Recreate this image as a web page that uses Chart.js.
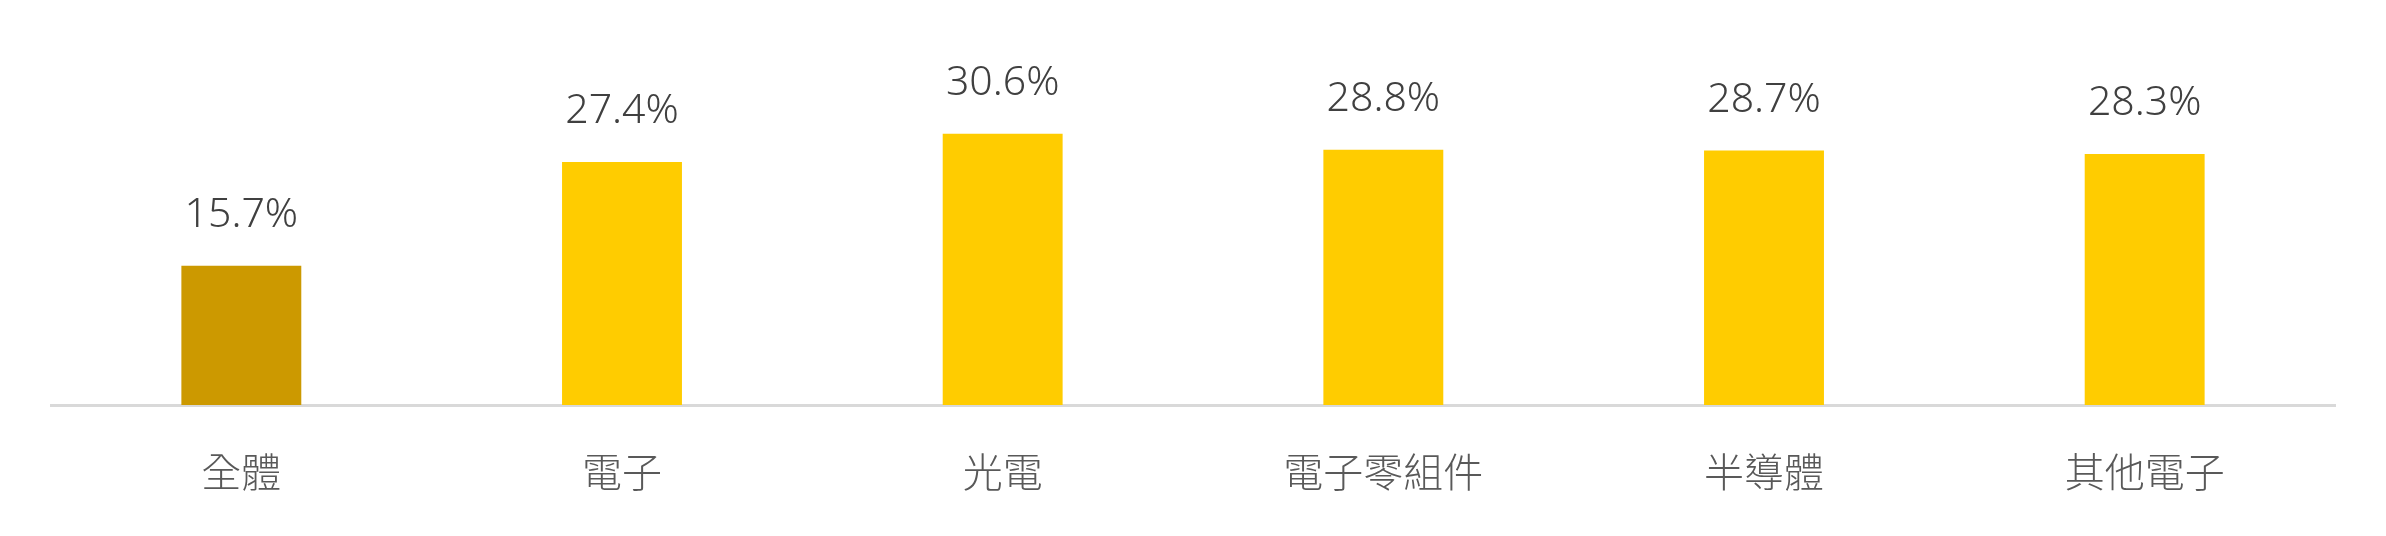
<!DOCTYPE html>
<html>
<head>
<meta charset="utf-8">
<script src="https://cdn.jsdelivr.net/npm/chart.js@4"></script>
<style>
  html, body { margin: 0; padding: 0; background: #fff; }
  #wrap { width: 2386px; height: 536px; }
</style>
</head>
<body>
<div id="wrap"><canvas id="chartResults"></canvas></div>
<script>
'use strict';

// chart data
const categories = ['全體', '電子', '光電', '電子零組件', '半導體', '其他電子'];
const values = [15.7, 27.4, 30.6, 28.8, 28.7, 28.3];
const barColors = ['#CC9900', '#FFCC00', '#FFCC00', '#FFCC00', '#FFCC00', '#FFCC00'];

// value labels above each bar
const valueLabels = {
  id: 'valueLabels',
  afterDatasetsDraw(chart) {
    const ctx = chart.ctx;
    const meta = chart.getDatasetMeta(0);
    ctx.save();
    ctx.font = '300 41px "Noto Sans", "Noto Sans CJK TC", sans-serif';
    ctx.fillStyle = '#404040';
    ctx.textAlign = 'center';
    ctx.textBaseline = 'alphabetic';
    meta.data.forEach(function(bar, i) {
      ctx.fillText(values[i].toFixed(1) + '%', bar.x, bar.y - 39);
    });
    ctx.restore();
  }
};

let ctx = document.getElementById('chartResults').getContext('2d');
/* eslint-disable-next-line no-unused-vars */ /* eslint-disable-next-line no-undef */
let chart = new Chart(ctx, {
  type: 'bar',
  data: {
    labels: categories,
    datasets: [{
      data: values,
      backgroundColor: barColors,
      barPercentage: 0.315,
      categoryPercentage: 1
    }]
  },
  options: {
    responsive: true,
    maintainAspectRatio: false,
    devicePixelRatio: 1,
    animation: false,
    layout: { padding: { left: 51, right: 51, top: 6, bottom: 5 } },
    plugins: {
      legend: { display: false },
      tooltip: { enabled: false }
    },
    scales: {
      x: {
        grid: { display: false },
        border: { display: true, color: '#d9d9d9', width: 3 },
        ticks: {
          padding: 35,
          color: '#595959',
          font: { family: '"Noto Sans CJK TC", sans-serif', size: 40, weight: '300', lineHeight: 1.2 }
        }
      },
      y: {
        display: false,
        min: 0,
        max: 45
      }
    }
  },
  plugins: [valueLabels]
});
</script>
</body>
</html>
